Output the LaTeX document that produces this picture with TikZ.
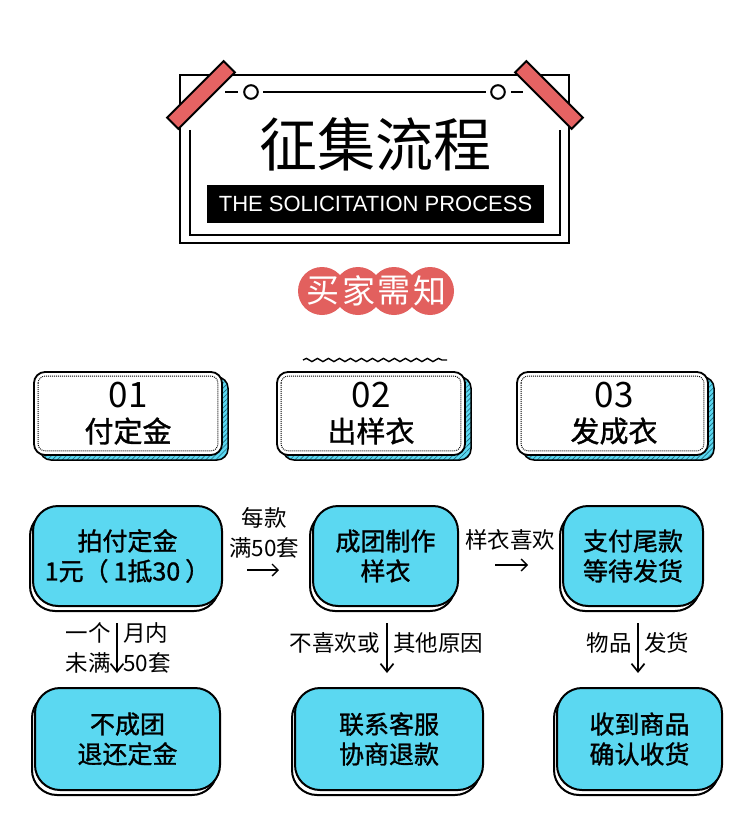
\documentclass[tikz,border=0pt]{standalone}
\usepackage{fontspec}
\setmainfont{Liberation Sans}
\newfontfamily\cjk{Noto Sans CJK SC}
\newfontfamily\cjkb[FakeBold=1.2]{Noto Sans CJK SC}
\usetikzlibrary{arrows.meta,shadows,patterns.meta,decorations.pathmorphing}
\definecolor{boxcyan}{RGB}{91,216,241}
\definecolor{tapered}{RGB}{229,99,99}
\definecolor{circred}{RGB}{226,96,94}
\definecolor{hatch}{RGB}{30,100,120}
\begin{document}
\begin{tikzpicture}[x=1pt,y=-1pt,
  outerframe/.style={draw, line width=2.6},
  innerframe/.style={draw, line width=2},
  deco/.style={draw, line width=2},
  tape/.style={draw, fill=tapered, line width=2, line join=miter},
  badge/.style={circle, fill=circred, minimum size=48, inner sep=0},
  badgetext/.style={text=white, font=\cjk\fontsize{33}{33}\selectfont, inner sep=0},
  stepbox/.style={draw, line width=1.8, fill=white, rounded corners=11,
     minimum width=188, minimum height=83, inner sep=0,
     general shadow={fill=boxcyan, shadow xshift=6pt, shadow yshift=-5pt},
     general shadow={pattern={Lines[angle=45,distance=3.5pt,line width=0.6pt]},
        pattern color=hatch, draw, line width=1.5, shadow xshift=6pt, shadow yshift=-5pt}},
  dotline/.style={line width=1, dash pattern=on 0.9pt off 1.1pt, rounded corners=7},
  stepnum/.style={font=\cjk\fontsize{35}{35}\selectfont, inner sep=0},
  steptitle/.style={font=\cjkb\fontsize{29}{29}\selectfont, inner sep=0},
  flowbox/.style={draw, line width=2, fill=boxcyan, rounded corners=25,
     minimum height=100, align=center, inner sep=0,
     font=\cjkb\fontsize{25}{30}\selectfont,
     general shadow={fill=white, draw, line width=2, shadow xshift=-3pt, shadow yshift=-5pt}},
  lbl/.style={font=\cjk\fontsize{22.5}{30}\selectfont, inner sep=0, align=center},
  thinarrow/.style={-{Straight Barb[length=6pt,width=12pt]}, line width=1.3},
  downarrow/.style={-{Straight Barb[length=8pt,width=13pt]}, line width=1.7},
  wave/.style={decorate, decoration={snake, amplitude=1.6pt, segment length=11pt}, line width=1.4},
]
\useasboundingbox (0,0) rectangle (750,824);
\fill[white] (0,0) rectangle (750,824);

% title frame
\draw[outerframe] (180,75) rectangle (569,243);
\draw[innerframe] (190,130) -- (190,235) -- (560,235) -- (560,130);
\draw[deco] (225,92) -- (238,92);
\draw[deco] (251,92) circle (6.8);
\draw[deco] (263,92) -- (486,92);
\draw[deco] (498,92) circle (6.8);
\draw[deco] (511,92) -- (523,92);
\draw[tape] (234.9,72.4) -- (223.6,61.1) -- (167.1,117.6) -- (178.4,128.9) -- cycle;
\draw[tape] (582.9,117.6) -- (571.6,128.9) -- (515.1,72.4) -- (526.4,61.1) -- cycle;
\node[font=\cjk\fontsize{58}{58}\selectfont, inner sep=0] (title) at (375,144) {征集流程};
\node[fill=black, text=white, minimum width=337, minimum height=38, inner sep=0,
      font=\fontsize{22}{22}\selectfont] (banner) at (375.5,204) {THE SOLICITATION PROCESS};

% badges
\node[badge] (k1) at (322,291) {};
\node[badge] (k2) at (358,291) {};
\node[badge] (k3) at (394,291) {};
\node[badge] (k4) at (430,291) {};
\node[badgetext] (k1t) at (323,291) {买};
\node[badgetext] (k2t) at (359,291) {家};
\node[badgetext] (k3t) at (394,291) {需};
\node[badgetext] (k4t) at (430,291) {知};

% step boxes
\draw[wave] (303,360) -- (447,360);
\node[stepbox] (s1) at (128,413.5) {};
\node[stepbox] (s2) at (371,413.5) {};
\node[stepbox, minimum width=191] (s3) at (612.5,413.5) {};
\foreach \s in {s1,s2,s3}
  \draw[dotline] ([shift={(5,5)}]\s.north west) rectangle ([shift={(-5,-5)}]\s.south east);
\node[stepnum] (s1n) at (128,395) {01};
\node[steptitle] (s1t) at (128,431) {付定金};
\node[stepnum] (s2n) at (371,395) {02};
\node[steptitle] (s2t) at (371,431) {出样衣};
\node[stepnum] (s3n) at (614,395) {03};
\node[steptitle] (s3t) at (614,431) {发成衣};

% flow row 1
\node[flowbox, minimum width=189] (f1) at (127.5,556) {拍付定金\\1元（\hspace{5pt}1抵30\hspace{5pt}）};
\node[flowbox, minimum width=145] (f2) at (385.5,556) {成团制作\\样衣};
\node[flowbox, minimum width=140] (f3) at (633,556) {支付尾款\\等待发货};

\node[lbl] (l12) at (264,533) {每款\\满50套};
\coordinate (l12a) at (247,570);
\coordinate (l12b) at (279,570);
\draw[thinarrow] (l12a) -- (l12b);
\node[lbl] (l23) at (510,540) {样衣喜欢};
\coordinate (l23a) at (495,565);
\coordinate (l23b) at (528,565);
\draw[thinarrow] (l23a) -- (l23b);

% down arrows
\node[lbl, anchor=east, align=right] (d1l) at (111,647.5) {一个\\未满};
\node[lbl, anchor=west, align=left] (d1r) at (123,647.5) {月内\\50套};
\coordinate (d1s) at (117,623);
\coordinate (d1e) at (117,673);
\draw[downarrow] (d1s) -- (d1e);
\node[lbl, anchor=east] (d2l) at (380,643) {不喜欢或};
\node[lbl, anchor=west] (d2r) at (393,643) {其他原因};
\coordinate (d2s) at (387,623);
\coordinate (d2e) at (387,673);
\draw[downarrow] (d2s) -- (d2e);
\node[lbl, anchor=east] (d3l) at (632,643) {物品};
\node[lbl, anchor=west] (d3r) at (644,643) {发货};
\coordinate (d3s) at (638,623);
\coordinate (d3e) at (638,673);
\draw[downarrow] (d3s) -- (d3e);

% flow row 2
\node[flowbox, minimum width=185, minimum height=102] (b1) at (127.5,739) {不成团\\退还定金};
\node[flowbox, minimum width=188, minimum height=102] (b2) at (389,739) {联系客服\\协商退款};
\node[flowbox, minimum width=165, minimum height=102] (b3) at (639.5,739) {收到商品\\确认收货};
\end{tikzpicture}
\end{document}
